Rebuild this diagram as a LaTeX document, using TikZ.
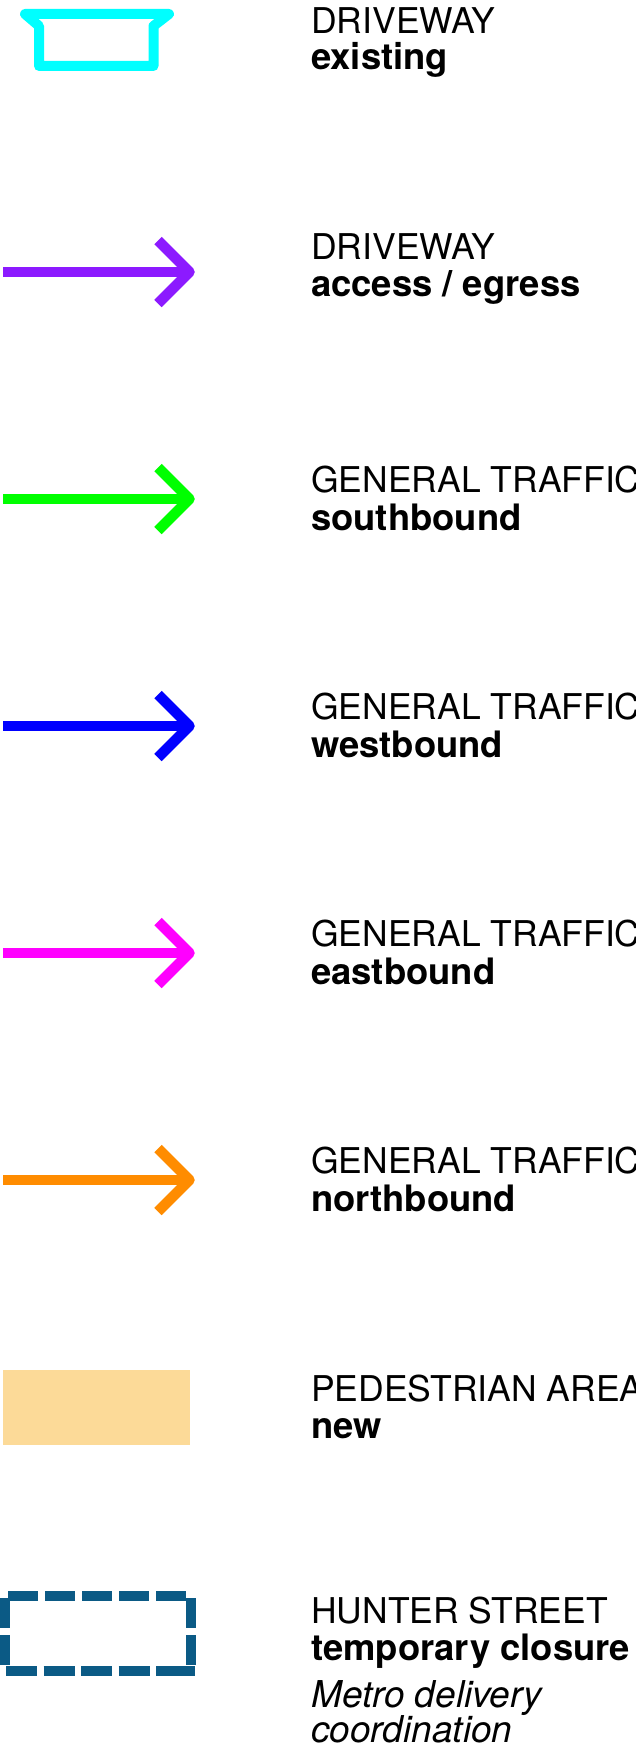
\documentclass[tikz,border=0pt]{standalone}
\usepackage{fontspec}
\setmainfont{TeX Gyre Heros}
\definecolor{cdrive}{HTML}{00FFFF}
\definecolor{cpurple}{HTML}{8C1AFF}
\definecolor{cgreen}{HTML}{00FF00}
\definecolor{cblue}{HTML}{0000FF}
\definecolor{cmagenta}{HTML}{FF00FF}
\definecolor{corange}{HTML}{FF8C00}
\definecolor{cped}{HTML}{FCDA98}
\definecolor{cclose}{HTML}{0B5A85}
\begin{document}
\begin{tikzpicture}[x=1pt,y=-1pt,
  lbl/.style={anchor=base west,inner sep=0pt,font=\fontsize{35.5}{37.5}\selectfont},
  blbl/.style={lbl,font=\fontsize{36.4}{37.5}\selectfont\bfseries},
  ilbl/.style={lbl,font=\fontsize{37}{37.5}\selectfont\itshape},
  shaft/.style={line width=10.5pt,line cap=butt},
  headstroke/.style={line width=10.5pt,line cap=butt,line join=round},
  closure/.style={line width=10.5pt,cclose,line cap=butt,dash pattern=on 30pt off 7pt}]
\useasboundingbox (0,0) rectangle (635,1753);
% driveway existing
\draw[cdrive,line width=10pt,line join=round,line cap=round]
  (25,14) -- (169,14) -- (153.5,26) -- (153.5,66) -- (39,66) -- (39,26) -- cycle;
\node[lbl] (t1a) at (311,33.5) {DRIVEWAY};
\node[blbl] (t1b) at (311,70) {existing};
% arrows
\foreach \c/\y/\na/\nb/\la/\lb/\oa in {
  cpurple/272/t2a/t2b/DRIVEWAY/{access / egress}/-13,
  cgreen/499/t3a/t3b/GENERAL TRAFFIC/southbound/-6.5,
  cblue/726/t4a/t4b/GENERAL TRAFFIC/westbound/-6.5,
  cmagenta/953/t5a/t5b/GENERAL TRAFFIC/eastbound/-6.5,
  corange/1180/t6a/t6b/GENERAL TRAFFIC/northbound/-6.5}{
  \draw[shaft,\c] (3,\y) -- (189,\y);
  \draw[headstroke,\c] (158,\y-31.5) -- (189.5,\y) -- (158,\y+31.5);
  \node[lbl] (\na) at (311,\y+\oa) {\la};
  \node[blbl] (\nb) at (311,\y+\oa+37.5) {\lb};
}
% pedestrian area
\fill[cped] (3,1369.5) rectangle (189.5,1445);
\node[lbl] (t7a) at (311,1401) {PEDESTRIAN AREA};
\node[blbl] (t7b) at (311,1438.5) {new};
% hunter street closure
\draw[closure] (8,1596) -- (191,1596);
\draw[closure,dash pattern=on 31pt off 6.5pt on 31pt off 6.5pt on 31pt off 6.5pt on 31pt off 6.5pt on 40pt off 10pt] (6,1671) -- (195,1671);
\draw[closure] (4.5,1598) -- (4.5,1671);
\draw[closure] (191,1598) -- (191,1671);
\node[lbl] (t8a) at (311,1623) {HUNTER STREET};
\node[blbl] (t8b) at (311,1660.5) {temporary closure};
\node[ilbl] (t8c) at (311,1707) {Metro delivery};
\node[ilbl] (t8d) at (311,1742) {coordination};
\end{tikzpicture}
\end{document}
